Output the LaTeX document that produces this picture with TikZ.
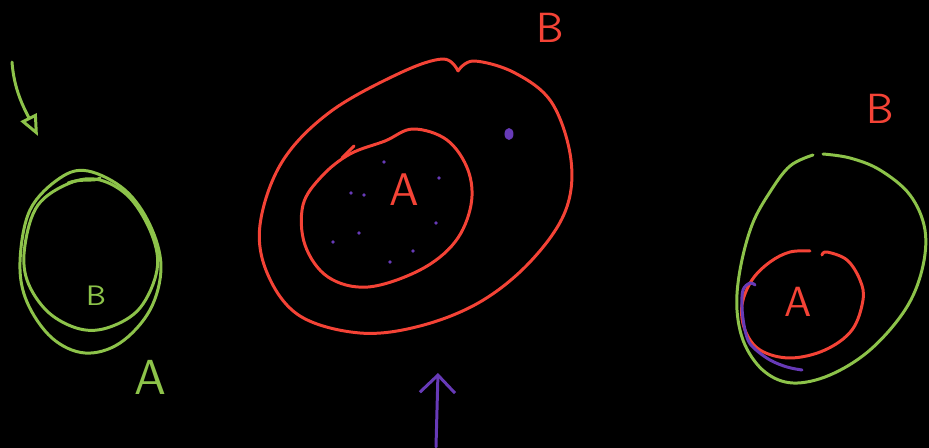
\documentclass[tikz,border=0pt]{standalone}
\usepackage{tikz}
\usetikzlibrary{arrows.meta,positioning,calc}
\usepackage{xcolor}
\definecolor{sketchgreen}{RGB}{141,195,74}
\definecolor{sketchred}{RGB}{244,67,54}
\definecolor{sketchpurple}{RGB}{103,58,183}

\begin{document}
\begin{tikzpicture}[x=0.01cm, y=-0.01cm,
    greenpen/.style={sketchgreen, line width=0.85pt, line cap=round, line join=round},
    redpen/.style={sketchred, line width=0.85pt, line cap=round, line join=round},
    purplepen/.style={sketchpurple, line width=0.85pt, line cap=round, line join=round},
    letter/.style={font=\sffamily, inner sep=0pt}]
  % Background
  \fill[black] (0,0) rectangle (929,448);
  \useasboundingbox (0,0) rectangle (929,448);

  % Left: arrow and the two green loops
  \coordinate (leftarrowtail) at (12,62);
  \coordinate (leftarrowtip) at (38,136);
  \draw[greenpen, -{Triangle[open, length=6pt, width=5pt]}]
    (leftarrowtail) .. controls (14,90) and (24,108) .. (leftarrowtip);
  \draw[greenpen] plot[smooth cycle, tension=0.6] coordinates
    {(60,178) (88,171) (125,190) (150,225) (161,267) (150,310)
     (120,343) (85,353) (52,338) (27,302) (20,262) (30,210)};
  \draw[greenpen] plot[smooth cycle, tension=0.6] coordinates
    {(70,183) (100,180) (130,198) (152,235) (157,270) (140,308)
     (110,327) (80,329) (48,312) (27,280) (25,245) (38,205)};
  \draw[greenpen] (68,183) .. controls (80,178) and (95,182) .. (100,178);
  \node[letter, sketchgreen, font=\sffamily\fontsize{8}{8}\selectfont] (innerB) at (96,296) {B};
  \node[letter, sketchgreen, font=\sffamily\fontsize{14}{14}\selectfont] (outerA) at (150,377) {A};

  % Middle: B contains A
  \draw[redpen] plot[smooth, tension=0.6] coordinates
    {(458,71) (474,61) (515,73) (552,103) (571,160) (565,212)
     (530,262) (480,302) (420,326) (360,333) (300,316) (268,275)
     (260,225) (282,162) (330,112) (400,73) (443,59) (458,71)};
  \draw[redpen] plot[smooth cycle, tension=0.6] coordinates
    {(350,154) (385,141) (413,129) (447,140) (468,170) (471,205)
     (455,242) (420,270) (368,287) (328,277) (305,245) (303,205) (322,176)};
  \draw[redpen] (342,158) -- (354,146);
  \node[letter, sketchred, font=\sffamily\fontsize{12}{12}\selectfont] (outerB) at (550,28) {B};
  \node[letter, sketchred, font=\sffamily\fontsize{13}{13}\selectfont] (innerA) at (404,190) {A};
  % points of A and one point of B
  \foreach \p in {(384,162),(439,178),(351,193),(364,195),(359,233),
                  (333,242),(436,223),(413,251),(390,262)}
    \fill[sketchpurple] \p circle (1.8);
  \fill[sketchpurple] (509,134) ellipse (4.5 and 6);
  \coordinate (midarrowtail) at (436,447);
  \coordinate (midarrowtip) at (438,373);
  \draw[purplepen, -{Straight Barb[length=5pt, width=10pt]}] (midarrowtail) -- (midarrowtip);

  % Right: A inside B, touching the edge
  \draw[greenpen] plot[smooth, tension=0.6] coordinates
    {(813,155) (790,166) (770,192) (752,225) (740,270) (737,310)
     (745,345) (765,372) (793,383) (830,375) (870,350) (905,310)
     (922,270) (925,230) (910,195) (880,170) (850,158) (823,154)};
  \draw[redpen] plot[smooth, tension=0.6] coordinates
    {(810,251) (790,252) (770,262) (752,280) (742,305) (745,330)
     (760,350) (790,358) (825,350) (852,330) (863,300) (860,280)
     (847,260) (827,252) (822,255)};
  \draw[purplepen] plot[smooth, tension=0.6] coordinates
    {(755,285) (750,283) (743,290) (742,307) (744,325) (748,340)
     (755,349) (770,360) (787,367) (802,370)};
  \node[letter, sketchred, font=\sffamily\fontsize{12}{12}\selectfont] (rightB) at (880,109) {B};
  \node[letter, sketchred, font=\sffamily\fontsize{12}{12}\selectfont] (rightA) at (798,302) {A};
\end{tikzpicture}
\end{document}
